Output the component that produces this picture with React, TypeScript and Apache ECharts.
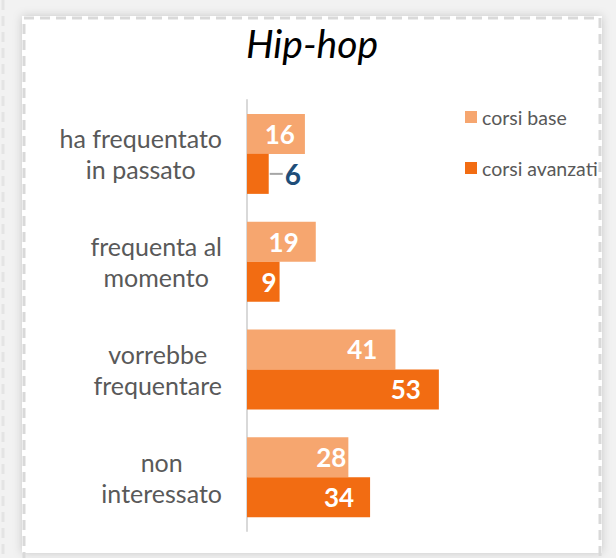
import React, { useEffect, useRef } from "react";
import * as echarts from "echarts";

const titleText = "Hip-hop";
const categories = [
  "ha frequentato\nin passato",
  "frequenta al\nmomento",
  "vorrebbe\nfrequentare",
  "non\ninteressato",
];
const seriesNames = ["corsi base", "corsi avanzati"];
const baseValues = [16, 19, 41, 28];
const advancedValues = [6, 9, 53, 34];

// label placement styling (distance from bar end); null = outside with leader
const baseLabelDistance = [10, 17, 18, 2];
const advancedLabelDistance: (number | null)[] = [null, 3, 18, 16];

const BASE_COLOR = "#F6A66F";
const ADV_COLOR = "#F26C12";
const FONT = "Lato, 'Open Sans', sans-serif";

export default function App() {
  const ref = useRef<HTMLDivElement>(null);
  useEffect(() => {
    if (!ref.current) return;
    const chart = echarts.init(ref.current, undefined, { renderer: "svg" });

    const valueLabel = {
      show: true,
      position: "insideRight",
      color: "#ffffff",
      fontFamily: FONT,
      fontWeight: "bold",
      fontSize: 26,
    };

    const option: any = {
      animation: false,
      backgroundColor: "#f2f2f2",
      graphic: [
        {
          type: "rect",
          z: -10,
          shape: { x: 22, y: 16, width: 580, height: 537 },
          style: {
            fill: "#ffffff",
            shadowBlur: 10,
            shadowColor: "rgba(0,0,0,0.18)",
          },
          silent: true,
        },
        {
          type: "rect",
          z: -9,
          shape: { x: 24, y: 18, width: 576, height: 560 },
          style: {
            fill: "none",
            stroke: "#d9d9d9",
            lineWidth: 3,
            lineDash: [10, 6],
          },
          silent: true,
        },
        {
          type: "line",
          z: -9,
          shape: { x1: 3, y1: 0, x2: 3, y2: 558 },
          style: { stroke: "#e4e4e4", lineWidth: 3, lineDash: [10, 6] },
          silent: true,
        },
        {
          type: "text",
          x: 312,
          y: 43,
          style: {
            text: titleText,
            fill: "#000000",
            fontFamily: FONT,
            fontStyle: "italic",
            fontSize: 39,
            align: "center",
            verticalAlign: "middle",
          },
          silent: true,
        },
      ],
      legend: {
        orient: "vertical",
        left: 465,
        top: 107,
        padding: 0,
        itemWidth: 12,
        itemHeight: 12,
        itemGap: 31,
        icon: "rect",
        data: seriesNames,
        textStyle: { color: "#595959", fontSize: 19.5, fontFamily: FONT },
      },
      grid: { left: 247, top: 100, height: 431, right: 616 - 247 - 217.2 },
      xAxis: {
        type: "value",
        min: 0,
        max: 60,
        show: false,
        splitLine: { show: false },
      },
      yAxis: {
        type: "category",
        inverse: true,
        data: categories,
        axisLine: { show: true, lineStyle: { color: "#d9d9d9", width: 2 } },
        axisTick: { show: false },
        axisLabel: {
          margin: 25,
          formatter: (v: string) =>
            v
              .split("\n")
              .map((l) => `{c|${l}}`)
              .join("\n"),
          rich: {
            c: {
              align: "center",
              color: "#595959",
              fontSize: 25,
              lineHeight: 31,
              fontFamily: FONT,
            },
          },
        },
      },
      series: [
        {
          name: seriesNames[0],
          type: "bar",
          barWidth: 40,
          barGap: "0%",
          itemStyle: { color: BASE_COLOR },
          label: valueLabel,
          data: baseValues.map((v, i) => ({
            value: v,
            label: { distance: baseLabelDistance[i] },
          })),
        },
        {
          name: seriesNames[1],
          type: "bar",
          barWidth: 40,
          barGap: "0%",
          itemStyle: { color: ADV_COLOR },
          label: valueLabel,
          data: advancedValues.map((v, i) => {
            const d = advancedLabelDistance[i];
            if (d === null) {
              return {
                value: v,
                label: {
                  position: "right",
                  distance: 1,
                  formatter: (p: any) => `{l| }{v|${p.value}}`,
                  rich: {
                    l: {
                      width: 13,
                      height: 2,
                      backgroundColor: "#a6a6a6",
                    },
                    v: {
                      color: "#1F4E79",
                      fontFamily: FONT,
                      fontWeight: "bold",
                      fontSize: 28,
                      padding: [0, 0, 0, 2],
                    },
                  },
                },
              };
            }
            return { value: v, label: { distance: d } };
          }),
        },
      ],
    };
    chart.setOption(option);
    return () => chart.dispose();
  }, []);
  return (
    <div
      ref={ref}
      style={{ position: "absolute", left: 0, top: 0, width: 616, height: 558 }}
    />
  );
}
